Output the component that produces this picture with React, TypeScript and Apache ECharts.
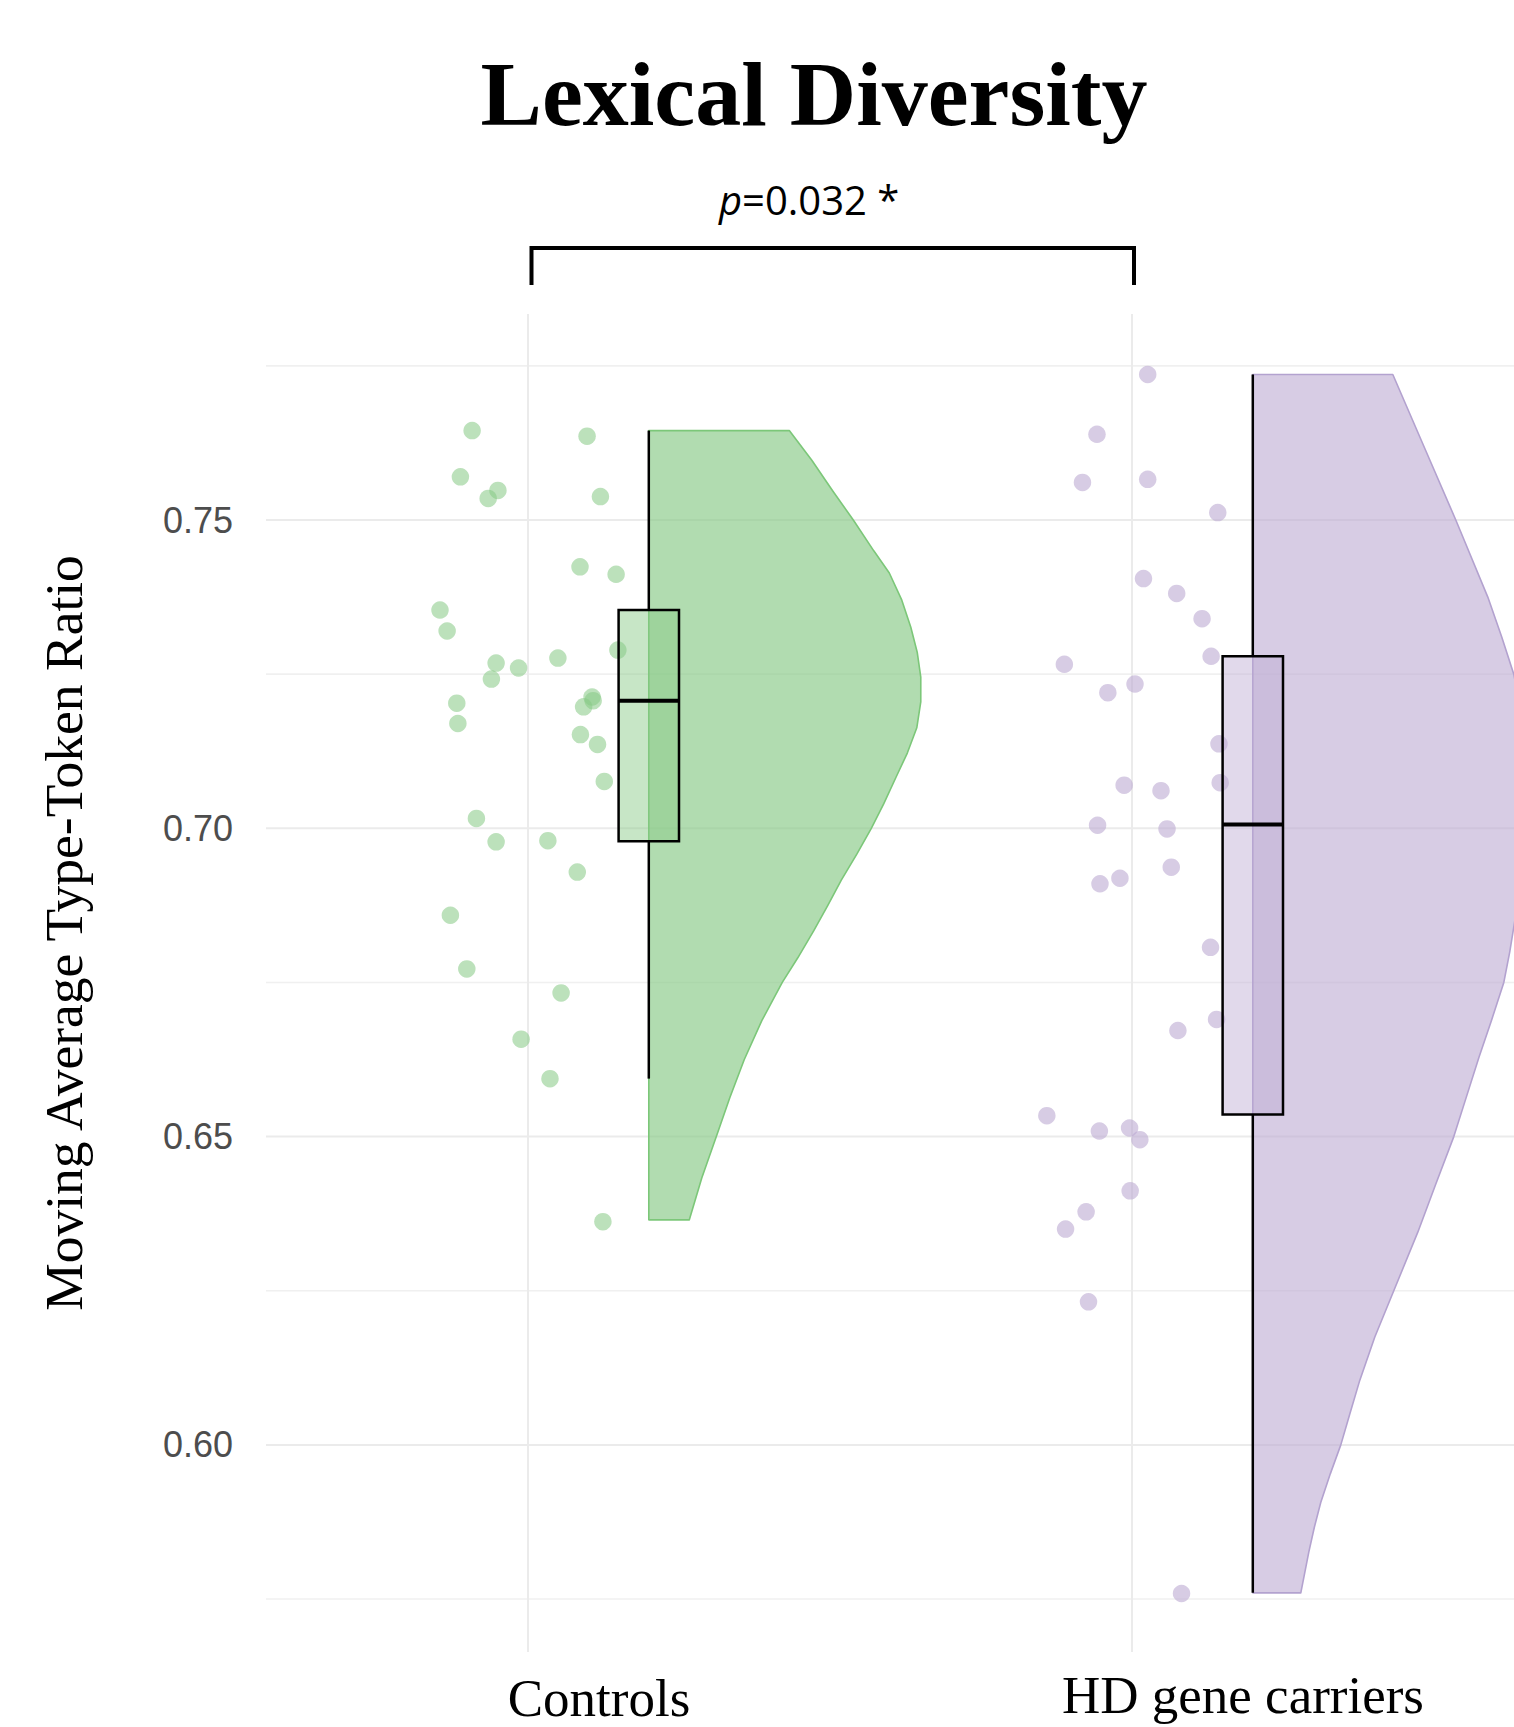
import React, { useEffect, useRef } from "react";
import * as echarts from "echarts";

// ---------------- data ----------------
const categories = ["Controls", "HD gene carriers"];

const controlsValues = [
  0.7645, 0.7636, 0.757, 0.7548, 0.7535, 0.7538, 0.7424, 0.7412, 0.7354, 0.732,
  0.7289, 0.7268, 0.726, 0.7276, 0.7242, 0.7213, 0.7207, 0.7197, 0.7203, 0.717,
  0.7152, 0.7136, 0.7076, 0.7016, 0.6978, 0.698, 0.6929, 0.6859, 0.6772, 0.6733,
  0.6658, 0.6594, 0.6362,
];
const controlsJitter = [
  0.9075, 1.0978, 0.8881, 0.9502, 0.9341, 1.1199, 1.0861, 1.1459, 0.8543, 0.8661,
  1.1488, 0.9472, 0.9844, 1.0495, 0.9394, 1.1061, 1.1079, 1.0921, 0.8821, 0.8839,
  1.0868, 1.1151, 1.1263, 0.9146, 0.9472, 1.0329, 1.0816, 0.8715, 0.8987, 1.0548,
  0.9886, 1.0364, 1.124,
];

const hdValues = [
  0.7736, 0.7639, 0.7561, 0.7566, 0.7512, 0.7405, 0.7381, 0.734, 0.7279, 0.7266,
  0.7234, 0.722, 0.7137, 0.707, 0.7061, 0.7074, 0.7005, 0.6999, 0.6937, 0.6919,
  0.691, 0.6807, 0.669, 0.6672, 0.6534, 0.6509, 0.6514, 0.6495, 0.6412, 0.6378,
  0.635, 0.6232, 0.5759,
];
const hdJitter = [
  2.026, 1.942, 1.918, 2.026, 2.142, 2.019, 2.074, 2.116, 2.131, 1.888,
  2.005, 1.96, 2.144, 1.987, 2.048, 2.146, 1.943, 2.058, 2.065, 1.98,
  1.947, 2.13, 2.14, 2.076, 1.859, 1.946, 1.996, 2.013, 1.997, 1.924,
  1.89, 1.928, 2.082,
];

// [lower whisker, Q1, median, Q3, upper whisker]
const controlsBox = [0.6594, 0.6979, 0.7207, 0.7354, 0.7645];
const hdBox = [0.576, 0.6536, 0.7006, 0.7279, 0.7736];

// half-violin outline: [value, half-width in x-axis units]
const controlsViolin = [
  [0.7645, 0.2326], [0.7597, 0.2699], [0.7547, 0.3046], [0.75, 0.3386],
  [0.745, 0.3725], [0.7414, 0.3982], [0.737, 0.4189], [0.7326, 0.4338],
  [0.7285, 0.4445], [0.7245, 0.4503], [0.7205, 0.4503], [0.7163, 0.4437],
  [0.7122, 0.428], [0.7082, 0.4089], [0.704, 0.3891], [0.7, 0.3684],
  [0.6958, 0.3444], [0.6916, 0.3187], [0.6875, 0.2964], [0.6834, 0.2732],
  [0.679, 0.2467], [0.675, 0.221], [0.6688, 0.1871], [0.6625, 0.1581],
  [0.6563, 0.1341], [0.65, 0.1118], [0.6433, 0.0877], [0.6365, 0.0671],
];
const hdViolin = [
  [0.7736, 0.2318], [0.7618, 0.2839], [0.75, 0.3361], [0.7375, 0.3891],
  [0.731, 0.4123], [0.725, 0.4321], [0.72, 0.4421], [0.715, 0.4487],
  [0.71, 0.452], [0.705, 0.4536], [0.7, 0.452], [0.695, 0.4487],
  [0.69, 0.4421], [0.685, 0.4338], [0.68, 0.4255], [0.675, 0.4156],
  [0.669, 0.3957], [0.6628, 0.3742], [0.6564, 0.3535], [0.65, 0.3328],
  [0.6423, 0.303], [0.6345, 0.2732], [0.625, 0.2334], [0.6175, 0.202],
  [0.6105, 0.1772], [0.605, 0.1606], [0.6, 0.1457], [0.5953, 0.1283],
  [0.5907, 0.1126], [0.5866, 0.1018], [0.5826, 0.0927], [0.576, 0.0795],
];

const yTicks = [0.6, 0.65, 0.7, 0.75];
const yMinorTicks = [0.575, 0.625, 0.675, 0.725, 0.775];
const categoryPositions = [1, 2];

// ---------------- layout / style ----------------
const X_MIN = 0.56623;
const X_MAX = 2.63245;
const Y_MIN = 0.56641;
const Y_MAX = 0.78341;
const OFFSET = 0.2; // box & violin offset from category centre
const BOX_HALF = 0.05;

const GREEN = "135,202,133";
const PURPLE = "188,170,210";

export default function App() {
  const ref = useRef<HTMLDivElement>(null);

  useEffect(() => {
    if (!ref.current) return;
    document.body.style.margin = "0";
    const chart = echarts.init(ref.current, undefined, { renderer: "svg" });

    const groups = [
      { rgb: GREEN, values: controlsValues, jitter: controlsJitter, box: controlsBox, violin: controlsViolin, stroke: "#7cc779", ptAlpha: 0.7, vAlpha: 0.65, bAlpha: 0.47 },
      { rgb: PURPLE, values: hdValues, jitter: hdJitter, box: hdBox, violin: hdViolin, stroke: "#b3a2cf", ptAlpha: 0.75, vAlpha: 0.6, bAlpha: 0.45 },
    ];

    const gridSeries = (ticks: number[], color: string, width: number) => ({
      type: "custom",
      silent: true,
      z: 0,
      data: ticks.map((v) => [1, v]),
      renderItem: (params: any, api: any) => {
        const cs = params.coordSys;
        const y = api.coord([1, api.value(1)])[1];
        return {
          type: "line",
          shape: { x1: cs.x, y1: y, x2: cs.x + cs.width, y2: y },
          style: { stroke: color, lineWidth: width },
        };
      },
    });

    const series: any[] = [
      gridSeries(yTicks, "#ebebeb", 2),
      gridSeries(yMinorTicks, "#f0f0f0", 1.6),
      {
        type: "custom",
        silent: true,
        z: 0,
        data: categoryPositions.map((c) => [c, 0.7]),
        renderItem: (params: any, api: any) => {
          const cs = params.coordSys;
          const x = api.coord([api.value(0), 0.7])[0];
          return {
            type: "line",
            shape: { x1: x, y1: cs.y, x2: x, y2: cs.y + cs.height },
            style: { stroke: "#ebebeb", lineWidth: 2 },
          };
        },
      },
    ];

    groups.forEach((g, gi) => {
      series.push({
        type: "scatter",
        name: categories[gi],
        z: 2,
        symbol: "circle",
        symbolSize: 17.5,
        itemStyle: { color: `rgba(${g.rgb},${g.ptAlpha})` },
        data: g.values.map((v, i) => [g.jitter[i], v]),
      });
    });

    groups.forEach((g, gi) => {
      const base = categoryPositions[gi] + OFFSET;
      series.push({
        type: "custom",
        silent: true,
        z: 3,
        data: [[base, g.violin[0][0]]],
        renderItem: (_params: any, api: any) => {
          const prof = g.violin;
          const pts: number[][] = [];
          pts.push(api.coord([base, prof[0][0]]));
          prof.forEach(([v, w]) => pts.push(api.coord([base + w, v])));
          pts.push(api.coord([base, prof[prof.length - 1][0]]));
          return {
            type: "polygon",
            shape: { points: pts },
            style: { fill: `rgba(${g.rgb},${g.vAlpha})`, stroke: g.stroke, lineWidth: 1.6, lineJoin: "round" },
          };
        },
      });
    });

    series.push({
      type: "custom",
      silent: true,
      z: 4,
      data: groups.map((g, gi) => [categoryPositions[gi] + OFFSET, ...g.box]),
      renderItem: (params: any, api: any) => {
        const g = groups[params.dataIndex];
        const c = api.value(0);
        const wl = api.value(1), q1 = api.value(2), med = api.value(3), q3 = api.value(4), wh = api.value(5);
        const top = api.coord([c - BOX_HALF, q3]);
        const bot = api.coord([c + BOX_HALF, q1]);
        const mL = api.coord([c - BOX_HALF, med]);
        const mR = api.coord([c + BOX_HALF, med]);
        const pWh = api.coord([c, wh]);
        const pQ3 = api.coord([c, q3]);
        const pQ1 = api.coord([c, q1]);
        const pWl = api.coord([c, wl]);
        return {
          type: "group",
          children: [
            { type: "line", shape: { x1: pWh[0], y1: pWh[1], x2: pQ3[0], y2: pQ3[1] }, style: { stroke: "#000", lineWidth: 2.5 } },
            { type: "line", shape: { x1: pQ1[0], y1: pQ1[1], x2: pWl[0], y2: pWl[1] }, style: { stroke: "#000", lineWidth: 2.5 } },
            {
              type: "rect",
              shape: { x: top[0], y: top[1], width: bot[0] - top[0], height: bot[1] - top[1] },
              style: { fill: `rgba(${g.rgb},${g.bAlpha})`, stroke: "#000", lineWidth: 2.5 },
            },
            { type: "line", shape: { x1: mL[0], y1: mL[1], x2: mR[0], y2: mR[1] }, style: { stroke: "#000", lineWidth: 4 } },
          ],
        };
      },
    });

    const option: any = {
      animation: false,
      backgroundColor: "#ffffff",
      grid: { left: 266, top: 314, width: 1248, height: 1338 },
      xAxis: {
        type: "value",
        min: X_MIN,
        max: X_MAX,
        show: false,
      },
      yAxis: {
        type: "value",
        min: Y_MIN,
        max: Y_MAX,
        axisLine: { show: false },
        axisTick: { show: false },
        splitLine: { show: false },
        axisLabel: {
          customValues: yTicks,
          formatter: (v: number) => v.toFixed(2),
          color: "#4d4d4d",
          fontSize: 36,
          fontFamily: "Liberation Sans",
          margin: 33,
        },
      },
      graphic: [
        {
          type: "text",
          x: 814,
          y: 94,
          style: {
            text: "Lexical Diversity",
            fontFamily: "Liberation Serif",
            fontWeight: "bold",
            fontSize: 92,
            fill: "#000",
            align: "center",
            verticalAlign: "middle",
          },
        },
        {
          type: "text",
          x: 719,
          y: 199,
          style: {
            text: "{i|p}=0.032 *",
            fontFamily: "Open Sans",
            fontSize: 40,
            fill: "#000",
            align: "left",
            verticalAlign: "middle",
            rich: { i: { fontStyle: "italic", fontFamily: "Open Sans", fontSize: 40, fill: "#000" } },
          },
        },
        {
          type: "polyline",
          shape: { points: [[531.5, 285], [531.5, 248], [1134, 248], [1134, 285]] },
          style: { stroke: "#000", lineWidth: 4, fill: null },
        },
        {
          type: "text",
          x: 599,
          y: 1698,
          style: { text: categories[0], fontFamily: "Liberation Serif", fontSize: 53, fill: "#000", align: "center", verticalAlign: "middle" },
        },
        {
          type: "text",
          x: 1243,
          y: 1695,
          style: { text: categories[1], fontFamily: "Liberation Serif", fontSize: 53, fill: "#000", align: "center", verticalAlign: "middle" },
        },
        {
          type: "text",
          x: 64,
          y: 933,
          rotation: Math.PI / 2,
          style: {
            text: "Moving Average Type-Token Ratio",
            fontFamily: "Liberation Serif",
            fontSize: 53.5,
            fill: "#000",
            align: "center",
            verticalAlign: "middle",
          },
        },
      ],
      series,
    };

    chart.setOption(option);
    return () => chart.dispose();
  }, []);

  return (
    <div
      ref={ref}
      style={{ position: "absolute", left: 0, top: 0, width: 1514, height: 1727, background: "#fff" }}
    />
  );
}
